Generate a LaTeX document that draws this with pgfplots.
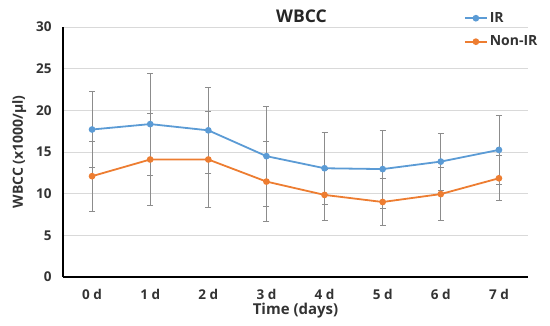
\documentclass[border=0pt]{standalone}
\usepackage{pgfplots}
\pgfplotsset{compat=1.18}
\usepackage{fontspec}
\setmainfont{Open Sans}
\definecolor{irblue}{HTML}{5B9BD5}
\definecolor{nonorange}{HTML}{ED7D31}
\definecolor{errgray}{HTML}{8C8C8C}
\definecolor{gridgray}{HTML}{D9D9D9}
\begin{document}
\begin{tikzpicture}[x=1pt,y=1pt]
\path (0,0) rectangle (550,325);
\begin{axis}[
  at={(63pt,48pt)}, anchor=south west,
  scale only axis, width=465pt, height=250pt,
  xmin=-0.5, xmax=7.5, ymin=0, ymax=30,
  xtick={0,1,2,3,4,5,6,7},
  xticklabels={0 d,1 d,2 d,3 d,4 d,5 d,6 d,7 d},
  ytick={0,5,10,15,20,25,30},
  axis x line*=bottom, axis y line*=left,
  axis line style={black, line width=1.3pt, -},
  major tick length=0pt,
  ymajorgrids, grid style={gridgray, line width=0.8pt},
  tick label style={font=\fontsize{13.5}{15}\selectfont\bfseries, text=black!80},
  /pgf/number format/assume math mode=true,
  xticklabel style={yshift=-11pt, inner ysep=1pt},
  yticklabel style={xshift=-8pt},
  xlabel={Time (days)},
  xlabel style={at={(axis description cs:0.5,0)}, anchor=north, yshift=-25pt,
    font=\fontsize{15}{17}\selectfont\bfseries, text=black!80, inner ysep=1pt},
  ylabel={WBCC (x1000/µl)},
  ylabel style={font=\fontsize{14}{16}\selectfont\bfseries, text=black!80, yshift=3pt},
  title={WBCC},
  title style={font=\fontsize{17.5}{19}\selectfont\bfseries, text=black!85, yshift=-5pt, xshift=6pt},
  legend style={draw=none, fill=none, at={(1.025,1.075)}, anchor=north east,
    font=\fontsize{14}{16}\selectfont\bfseries, text=black!80, row sep=8pt,
    inner xsep=0pt, cells={anchor=west}},
  legend image code/.code={\draw[#1, mark repeat=2, mark phase=2] plot coordinates {(0pt,0pt) (11pt,0pt) (22pt,0pt)};},
  error bars/error bar style={errgray, line width=0.8pt},
  error bars/error mark options={rotate=90, errgray, mark size=3pt, line width=0.8pt},
]
\addplot[irblue, line width=1.8pt, mark=*, mark size=2.4pt,
  error bars/.cd, y dir=both, y explicit]
  coordinates {
  (0,17.7) +- (0,4.6)
  (1,18.35) +- (0,6.1)
  (2,17.6) +- (0,5.2)
  (3,14.5) +- (0,6.0)
  (4,13.05) +- (0,4.3)
  (5,12.95) +- (0,4.7)
  (6,13.85) +- (0,3.4)
  (7,15.25) +- (0,4.1)
  };
\addlegendentry{IR}
\addplot[nonorange, line width=1.8pt, mark=*, mark size=2.4pt,
  error bars/.cd, y dir=both, y explicit]
  coordinates {
  (0,12.1) +- (0,4.2)
  (1,14.1) +- (0,5.5)
  (2,14.1) +- (0,5.8)
  (3,11.45) +- (0,4.8)
  (4,9.85) +- (0,3.1)
  (5,9.0) +- (0,2.8)
  (6,9.95) +- (0,3.2)
  (7,11.85) +- (0,2.7)
  };
\addlegendentry{Non-IR}
\end{axis}
\end{tikzpicture}
\end{document}
